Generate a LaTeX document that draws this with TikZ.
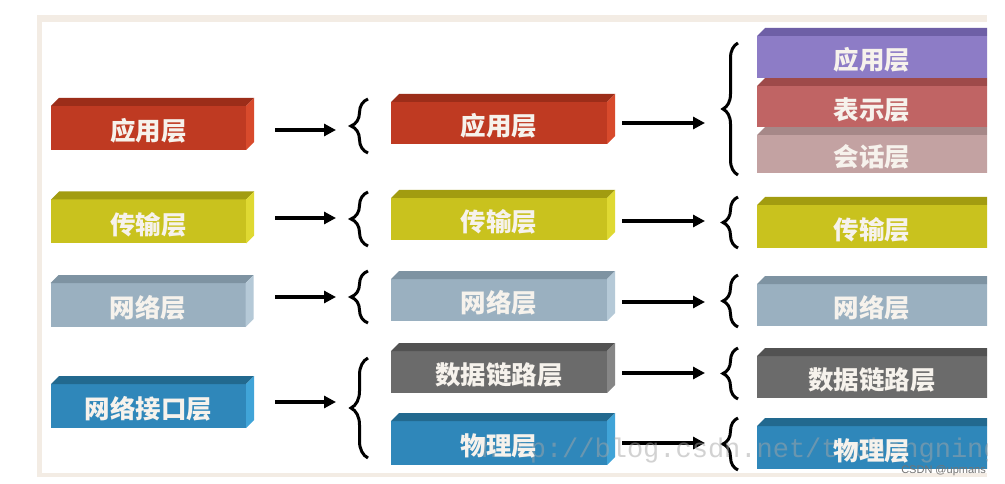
\documentclass[tikz,border=0pt]{standalone}
\usepackage{fontspec}
\newfontfamily\cjk{Noto Sans CJK SC}
\newfontfamily\wmfont{Liberation Mono}
\newfontfamily\smallsans{Liberation Sans}
\usetikzlibrary{decorations.pathreplacing,arrows.meta}

\definecolor{frameC}{HTML}{F3ECE4}
\definecolor{labelC}{HTML}{F6F2EC}
\definecolor{redF}{HTML}{BF3A22}\definecolor{redT}{HTML}{9C2D19}\definecolor{redS}{HTML}{D84A2C}
\definecolor{yelF}{HTML}{C9C21E}\definecolor{yelT}{HTML}{A29C10}\definecolor{yelS}{HTML}{DFD932}
\definecolor{stlF}{HTML}{9AB0C0}\definecolor{stlT}{HTML}{7E93A2}\definecolor{stlS}{HTML}{B5C9D7}
\definecolor{bluF}{HTML}{2F87BA}\definecolor{bluT}{HTML}{22698F}\definecolor{bluS}{HTML}{40A4D8}
\definecolor{gryF}{HTML}{6B6B6B}\definecolor{gryT}{HTML}{525252}\definecolor{gryS}{HTML}{868686}
\definecolor{purF}{HTML}{8D7CC6}\definecolor{purT}{HTML}{6E5FA6}\definecolor{purS}{HTML}{A595D8}
\definecolor{rosF}{HTML}{C06464}\definecolor{rosT}{HTML}{9E4A4A}\definecolor{rosS}{HTML}{D07878}
\definecolor{pnkF}{HTML}{C3A2A2}\definecolor{pnkT}{HTML}{A68888}\definecolor{pnkS}{HTML}{D2B4B4}

\tikzset{
  boxface/.style={inner sep=0pt, outer sep=0pt, draw=none},
  lbl/.style={text=labelC, inner sep=0pt, font=\cjk\bfseries\fontsize{25.5}{28}\selectfont},
  arr/.style={line width=3.3pt, -{Triangle[length=12pt,width=12pt]}},
  brc/.style={line width=3pt, decorate, decoration={brace, amplitude=#1}},
  wm/.style={text=black!35, opacity=0.5, inner sep=0pt, font=\wmfont\fontsize{27}{30}\selectfont},
}

% name, centre, width, height, colour prefix
\newcommand\lbox[5]{%
  \node[boxface, fill=#5F, minimum width=#3, minimum height=#4] (#1) at (#2) {};
  \fill[#5T] (#1.north west) -- ++(8,-8) -- ([shift={(8,-8)}]#1.north east) -- (#1.north east) -- cycle;
  \fill[#5S] (#1.north east) -- ++(8,-8) -- ([shift={(8,-8)}]#1.south east) -- (#1.south east) -- cycle;
}

\begin{document}
\begin{tikzpicture}[x=1pt,y=-1pt]
\useasboundingbox (0,0) rectangle (1005,484);
\fill[white] (0,0) rectangle (1005,484);
\fill[frameC] (37,15) rectangle (987,477);
\fill[white] (42,22) rectangle (987,473);

% column 1
\lbox{c1a}{148.5,128}{195}{44}{red}
\lbox{c1b}{148.5,221.5}{195}{44}{yel}
\lbox{c1c}{148,305}{195}{44}{stl}
\lbox{c1d}{148.5,406}{195}{44}{blu}

% column 2
\lbox{c2a}{499,123}{216}{42}{red}
\lbox{c2b}{499,219}{216}{42}{yel}
\lbox{c2c}{499,300}{216}{42}{stl}
\lbox{c2d}{499,372}{216}{42}{gry}
\lbox{c2e}{499,443}{216}{44}{blu}

% column 3 (cut at the right edge)
\begin{scope}
\clip (0,0) rectangle (987,484);
\lbox{c3c}{876,154}{238}{38}{pnk}
\lbox{c3b}{876,106.5}{238}{41}{ros}
\lbox{c3a}{876,57}{238}{42}{pur}
\lbox{c3d}{876,226.5}{238}{43}{yel}
\lbox{c3e}{876,305}{238}{42}{stl}
\lbox{c3f}{876,377}{238}{42}{gry}
\lbox{c3g}{876,447.5}{238}{43}{blu}
\end{scope}

% arrows column 1 -> column 2
\coordinate (a1s) at (275,130); \coordinate (a1e) at (336,130);
\coordinate (a2s) at (275,218); \coordinate (a2e) at (336,218);
\coordinate (a3s) at (275,297); \coordinate (a3e) at (336,297);
\coordinate (a4s) at (275,402); \coordinate (a4e) at (336,402);
\draw[arr] (a1s) -- (a1e);
\draw[arr] (a2s) -- (a2e);
\draw[arr] (a3s) -- (a3e);
\draw[arr] (a4s) -- (a4e);

% arrows column 2 -> column 3
\coordinate (b1s) at (622,123); \coordinate (b1e) at (705,123);
\coordinate (b2s) at (622,221); \coordinate (b2e) at (705,221);
\coordinate (b3s) at (622,302); \coordinate (b3e) at (705,302);
\coordinate (b4s) at (622,373); \coordinate (b4e) at (705,373);
\coordinate (b5s) at (622,443); \coordinate (b5e) at (705,443);
\draw[arr] (b1s) -- (b1e);
\draw[arr] (b2s) -- (b2e);
\draw[arr] (b3s) -- (b3e);
\draw[arr] (b4s) -- (b4e);
\draw[arr] (b5s) -- (b5e);

% braces column 2
\coordinate (k1b) at (368,153); \coordinate (k1t) at (368,99);
\coordinate (k2b) at (368,246); \coordinate (k2t) at (368,192);
\coordinate (k3b) at (368,323); \coordinate (k3t) at (368,271);
\coordinate (k4b) at (368,458); \coordinate (k4t) at (368,358);
\draw[brc=17pt] (k1b) -- (k1t);
\draw[brc=17pt] (k2b) -- (k2t);
\draw[brc=17pt] (k3b) -- (k3t);
\draw[brc=17pt] (k4b) -- (k4t);

% braces column 3
\coordinate (m1b) at (738,175); \coordinate (m1t) at (738,43);
\coordinate (m2b) at (738,248); \coordinate (m2t) at (738,197);
\coordinate (m3b) at (738,327); \coordinate (m3t) at (738,275);
\coordinate (m4b) at (738,399); \coordinate (m4t) at (738,348);
\coordinate (m5b) at (738,470); \coordinate (m5t) at (738,418);
\draw[brc=15pt] (m1b) -- (m1t);
\draw[brc=15pt] (m2b) -- (m2t);
\draw[brc=15pt] (m3b) -- (m3t);
\draw[brc=15pt] (m4b) -- (m4t);
\draw[brc=15pt] (m5b) -- (m5t);

% watermark
\begin{scope}
\clip (0,0) rectangle (987,484);
\node[wm, anchor=base west] (wmk) at (481,457) {http://blog.csdn.net/taohongning};
\end{scope}

% labels
\node[lbl] (t1a) at (148.5,131) {应用层};
\node[lbl] (t1b) at (148.5,224.5) {传输层};
\node[lbl] (t1c) at (148,308) {网络层};
\node[lbl] (t1d) at (148.5,409) {网络接口层};

\node[lbl] (t2a) at (499,126) {应用层};
\node[lbl] (t2b) at (499,222) {传输层};
\node[lbl] (t2c) at (499,303) {网络层};
\node[lbl] (t2d) at (499,375) {数据链路层};
\node[lbl] (t2e) at (499,446) {物理层};

\node[lbl] (t3a) at (872,60) {应用层};
\node[lbl] (t3b) at (872,109.5) {表示层};
\node[lbl] (t3c) at (872,157) {会话层};
\node[lbl] (t3d) at (872,229.5) {传输层};
\node[lbl] (t3e) at (872,308) {网络层};
\node[lbl] (t3f) at (872,380) {数据链路层};
\node[lbl] (t3g) at (872,450.5) {物理层};

\node[anchor=base east, inner sep=0pt, text=black!55, font=\smallsans\fontsize{11}{12}\selectfont] (csdn) at (986,473) {CSDN @upmans};
\end{tikzpicture}
\end{document}
